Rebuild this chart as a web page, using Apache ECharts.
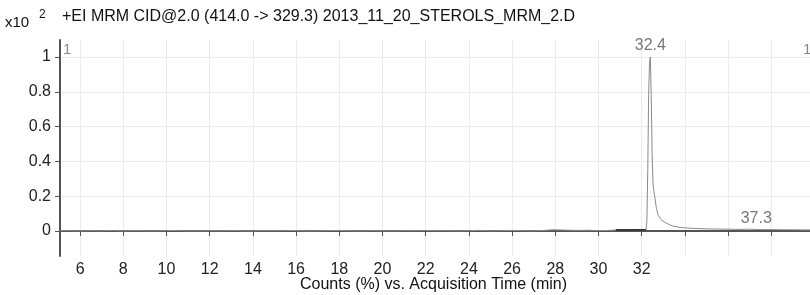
<!DOCTYPE html>
<html>
<head>
<meta charset="utf-8">
<script src="https://cdn.jsdelivr.net/npm/echarts@6/dist/echarts.min.js"></script>
<style>
  html, body { margin: 0; padding: 0; background: #fff; }
  #chart { width: 810px; height: 295px; }
</style>
</head>
<body>
<div id="chart"></div>
<script>
// acquisition time (min) and counts (x10^2)
const baseTime = [5.07, 5.5, 6.0, 6.5, 7.0, 7.5, 8.0, 8.5, 9.0, 9.5, 10.0, 10.5, 11.0, 11.5, 12.0, 12.5,
  13.0, 13.5, 14.0, 14.5, 15.0, 15.5, 16.0, 16.5, 17.0, 17.5, 18.0, 18.5, 19.0, 19.5, 20.0, 20.5,
  21.0, 21.5, 22.0, 22.5, 23.0, 23.5, 24.0, 24.5, 25.0, 25.5, 26.0, 26.5, 27.0, 27.5, 27.9, 28.2,
  28.6, 29.0, 29.5, 30.0, 30.5, 30.8];
const baseVals = [0.001, 0.002, 0.000, 0.002, 0.001, 0.003, 0.000, 0.002, 0.001, 0.000, 0.002, 0.003, 0.001, 0.000, 0.002, 0.001,
  0.003, 0.001, 0.000, 0.002, 0.001, 0.003, 0.002, 0.000, 0.001, 0.002, 0.003, 0.001, 0.000, 0.002, 0.001, 0.000,
  0.002, 0.001, 0.003, 0.001, 0.002, 0.000, 0.002, 0.003, 0.001, 0.002, 0.003, 0.002, 0.001, 0.003, 0.007, 0.006,
  0.004, 0.003, 0.004, 0.002, 0.003, 0.005];
const segTime = [30.8, 31.2, 31.6, 32.0, 32.2];
const segVals = [0.006, 0.007, 0.006, 0.007, 0.007];
const peakTime = [32.2, 32.24, 32.28, 32.32, 32.36, 32.4, 32.44, 32.48, 32.52, 32.56, 32.6, 32.68, 32.76, 32.9,
  33.06, 33.25, 33.44, 33.8, 34.2, 34.6, 35.0, 35.5, 36.0, 36.5, 37.0, 37.5, 38.0, 38.5, 39.0, 39.5, 39.79];
const peakVals = [0.007, 0.06, 0.35, 0.78, 0.97, 1.0, 0.78, 0.45, 0.28, 0.23, 0.2, 0.13, 0.09, 0.065,
  0.05, 0.038, 0.028, 0.02, 0.016, 0.014, 0.012, 0.011, 0.010, 0.009, 0.010, 0.008, 0.008, 0.007, 0.007, 0.006, 0.006];
const peakLabels = [[32.4, 1.0], [37.3, 0.01]];
const xTicks = [6, 8, 10, 12, 14, 16, 18, 20, 22, 24, 26, 28, 30, 32, 34, 36, 38];
const xTickLabels = [6, 8, 10, 12, 14, 16, 18, 20, 22, 24, 26, 28, 30, 32];
const yTicks = [0, 0.2, 0.4, 0.6, 0.8, 1];

const zip = (a, b) => a.map((t, i) => [t, b[i]]);
const font = 'Liberation Sans, Arial, sans-serif';

const chart = echarts.init(document.getElementById('chart'));
chart.setOption({
  animation: false,
  backgroundColor: '#fff',
  textStyle: { fontFamily: font },
  grid: { left: 60, right: 0, top: 40, bottom: 39 },
  xAxis: {
    type: 'value',
    min: 5.07,
    max: 39.79,
    axisLine: { lineStyle: { color: '#555', width: 2 } },
    axisTick: { customValues: xTicks, length: 5, lineStyle: { color: '#555' } },
    axisLabel: { customValues: xTickLabels, color: '#222', fontSize: 16, margin: 6, fontFamily: font },
    splitLine: { show: true, lineStyle: { color: '#ececec' } }
  },
  yAxis: {
    type: 'value',
    min: -0.144,
    max: 1.098,
    axisLine: { show: true, lineStyle: { color: '#555', width: 2 } },
    axisTick: { show: true, customValues: yTicks, length: 5, lineStyle: { color: '#555' } },
    axisLabel: {
      customValues: yTicks, color: '#222', fontSize: 16, margin: 9, fontFamily: font,
      formatter: v => String(+v.toFixed(1))
    },
    splitLine: { show: true, lineStyle: { color: '#ececec' } }
  },
  series: [
    {
      type: 'line', data: zip(baseTime, baseVals), symbol: 'none',
      lineStyle: { color: '#888', width: 1 }
    },
    {
      type: 'line', data: zip(segTime, segVals), symbol: 'none',
      lineStyle: { color: '#333', width: 1.6 }
    },
    {
      type: 'line', data: zip(peakTime, peakVals), symbol: 'none',
      lineStyle: { color: '#8a8a8a', width: 1 }
    },
    {
      type: 'scatter', data: peakLabels, symbolSize: 0,
      label: {
        show: true, position: 'top', distance: 3, color: '#555', fontSize: 16, fontFamily: font,
        formatter: p => p.value[0].toFixed(1)
      }
    }
  ],
  graphic: [
    { type: 'text', left: 62, top: 9, style: { text: '+EI MRM CID@2.0 (414.0 -> 329.3) 2013_11_20_STEROLS_MRM_2.D', fill: '#111', font: '16px ' + font } },
    { type: 'text', left: 5, top: 15, style: { text: 'x10', fill: '#111', font: '15px ' + font } },
    { type: 'text', left: 39, top: 9, style: { text: '2', fill: '#111', font: '12px ' + font } },
    { type: 'text', left: 63, top: 42, style: { text: '1', fill: '#888', font: '15px ' + font } },
    { type: 'text', left: 803, top: 42, style: { text: '1', fill: '#888', font: '15px ' + font } },
    { type: 'text', left: 300, top: 277, style: { text: 'Counts (%) vs. Acquisition Time (min)', fill: '#111', font: '16px ' + font } }
  ]
});
</script>
</body>
</html>
